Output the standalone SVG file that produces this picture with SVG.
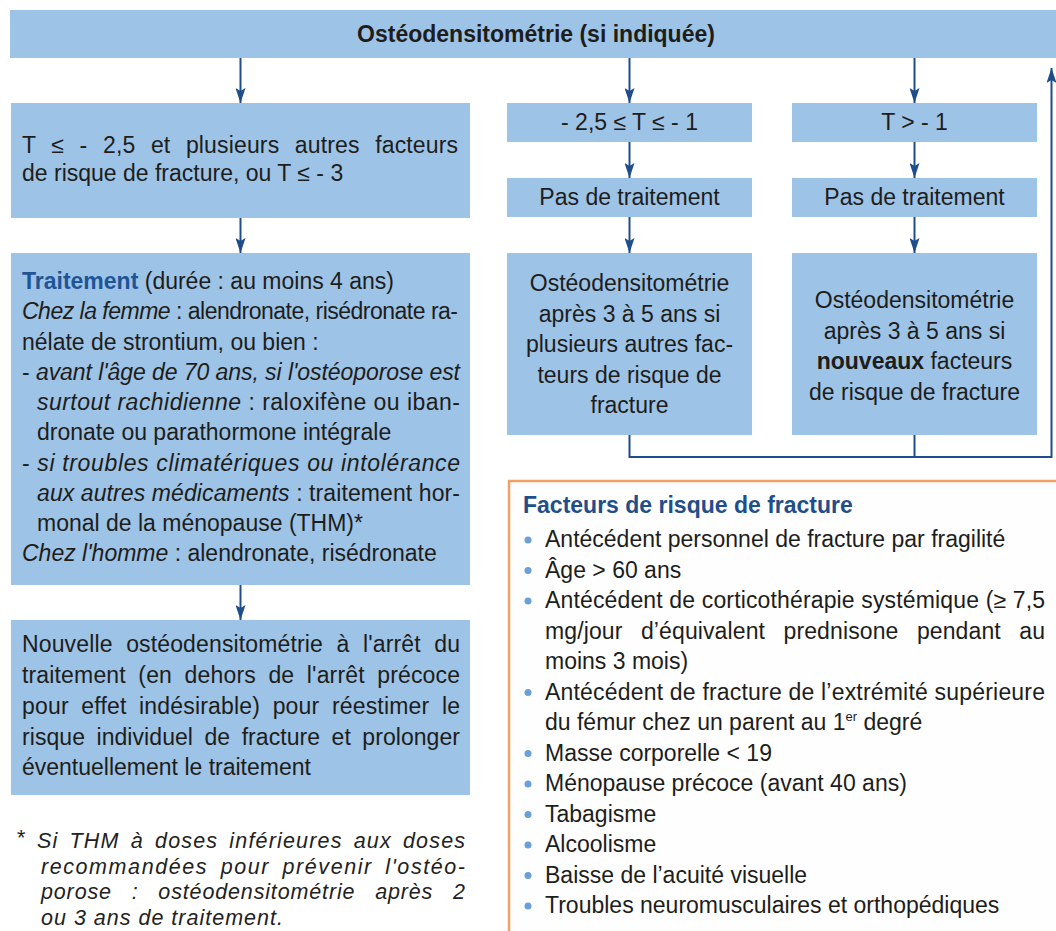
<svg xmlns="http://www.w3.org/2000/svg" width="1056" height="931" viewBox="0 0 1056 931">
<style>
.t{font-family:"Liberation Sans",Arial,sans-serif;font-size:23px;fill:#1d1d1b}
.i{font-style:italic}
.b{font-weight:bold}
.c{text-anchor:middle}
.box{fill:#9dc3e6}
.blue{fill:#1f5597}
.fn{font-family:"Liberation Sans",Arial,sans-serif;font-size:21.5px;font-style:italic;fill:#222222}
.con{fill:none;stroke:#1e4d8c;stroke-width:2}
.bul{fill:#6a9fd8}
</style>
<defs>
<marker id="ah" markerUnits="userSpaceOnUse" markerWidth="15" markerHeight="10" refX="15" refY="5" orient="auto">
<path d="M0,0 L15,5 L0,10 L3,5 Z" fill="#1e4d8c"/>
</marker>
</defs>
<rect width="1056" height="931" fill="#ffffff"/>

<g id="top">
<rect class="box" x="10" y="10" width="1046" height="48"/>
<text class="t b c" x="536" y="42">Ostéodensitométrie (si indiquée)</text>
</g>

<g id="boxA">
<rect class="box" x="11" y="103" width="459" height="115"/>
<text class="t" x="22" y="153" style="word-spacing:9px" textLength="436" lengthAdjust="spacing">T ≤ - 2,5 et plusieurs autres facteurs</text>
<text class="t" x="22" y="181">de risque de fracture, ou T ≤ - 3</text>
</g>

<g id="traitement">
<rect class="box" x="11" y="253" width="459" height="332"/>
<text class="t" x="22" y="289"><tspan class="b blue">Traitement</tspan> (durée : au moins 4 ans)</text>
<text class="t" x="22" y="319" textLength="436" lengthAdjust="spacing"><tspan class="i">Chez la femme</tspan> : alendronate, risédronate ra-</text>
<text class="t" x="22" y="349.5">nélate de strontium, ou bien :</text>
<text class="t" x="22" y="380" textLength="438" lengthAdjust="spacing">- <tspan class="i">avant l'âge de 70 ans, si l'ostéoporose est</tspan></text>
<text class="t" x="37" y="410" textLength="423" lengthAdjust="spacing"><tspan class="i">surtout rachidienne</tspan> : raloxifène ou iban-</text>
<text class="t" x="37" y="440">dronate ou parathormone intégrale</text>
<text class="t" x="22" y="470.5" textLength="438" lengthAdjust="spacing">- <tspan class="i">si troubles climatériques ou intolérance</tspan></text>
<text class="t" x="37" y="501" textLength="423" lengthAdjust="spacing"><tspan class="i">aux autres médicaments</tspan> : traitement hor-</text>
<text class="t" x="37" y="531">monal de la ménopause (THM)*</text>
<text class="t" x="22" y="561"><tspan class="i">Chez l'homme</tspan> : alendronate, risédronate</text>
</g>

<g id="nouvelle">
<rect class="box" x="11" y="620" width="459" height="175"/>
<text class="t" x="22" y="652" style="word-spacing:7px" textLength="438" lengthAdjust="spacing">Nouvelle ostéodensitométrie à l'arrêt du</text>
<text class="t" x="22" y="683" style="word-spacing:6px" textLength="438" lengthAdjust="spacing">traitement (en dehors de l'arrêt précoce</text>
<text class="t" x="22" y="714" style="word-spacing:6px" textLength="438" lengthAdjust="spacing">pour effet indésirable) pour réestimer le</text>
<text class="t" x="22" y="745" style="word-spacing:5px" textLength="438" lengthAdjust="spacing">risque individuel de fracture et prolonger</text>
<text class="t" x="22" y="775">éventuellement le traitement</text>
</g>

<g id="footnote">
<text class="fn" x="17" y="845" style="font-style:normal">*</text>
<text class="fn" x="37" y="848" style="word-spacing:4px" textLength="428" lengthAdjust="spacing">Si THM à doses inférieures aux doses</text>
<text class="fn" x="41" y="873.5" style="word-spacing:5px" textLength="424" lengthAdjust="spacing">recommandées pour prévenir l'ostéo-</text>
<text class="fn" x="41" y="899" style="word-spacing:13px" textLength="424" lengthAdjust="spacing">porose : ostéodensitométrie après 2</text>
<text class="fn" x="41" y="924.5" style="letter-spacing:1px">ou 3 ans de traitement.</text>
</g>

<g id="tmid">
<rect class="box" x="507" y="103" width="245" height="39"/>
<text class="t c" x="629.5" y="130">- 2,5 ≤ T ≤ - 1</text>
</g>
<g id="tgt">
<rect class="box" x="792" y="103" width="245" height="39"/>
<text class="t c" x="914.5" y="130">T &gt; - 1</text>
</g>
<g id="pas1">
<rect class="box" x="507" y="178" width="245" height="39"/>
<text class="t c" x="629.5" y="205">Pas de traitement</text>
</g>
<g id="pas2">
<rect class="box" x="792" y="178" width="245" height="39"/>
<text class="t c" x="914.5" y="205">Pas de traitement</text>
</g>
<g id="osteo1">
<rect class="box" x="507" y="253" width="245" height="182"/>
<text class="t c" x="629.5" y="291">Ostéodensitométrie</text>
<text class="t c" x="629.5" y="321.5">après 3 à 5 ans si</text>
<text class="t c" x="629.5" y="352">plusieurs autres fac-</text>
<text class="t c" x="629.5" y="382.5">teurs de risque de</text>
<text class="t c" x="629.5" y="413">fracture</text>
</g>
<g id="osteo2">
<rect class="box" x="792" y="253" width="245" height="182"/>
<text class="t c" x="914.5" y="308">Ostéodensitométrie</text>
<text class="t c" x="914.5" y="338.5">après 3 à 5 ans si</text>
<text class="t c" x="914.5" y="369"><tspan class="b">nouveaux</tspan> facteurs</text>
<text class="t c" x="914.5" y="399.5">de risque de fracture</text>
</g>

<g id="connectors">
<line class="con" x1="240.5" y1="58" x2="240.5" y2="103" marker-end="url(#ah)"/>
<line class="con" x1="240.5" y1="218" x2="240.5" y2="253" marker-end="url(#ah)"/>
<line class="con" x1="240.5" y1="585" x2="240.5" y2="620" marker-end="url(#ah)"/>
<line class="con" x1="629.5" y1="58" x2="629.5" y2="103" marker-end="url(#ah)"/>
<line class="con" x1="629.5" y1="142" x2="629.5" y2="178" marker-end="url(#ah)"/>
<line class="con" x1="629.5" y1="217" x2="629.5" y2="253" marker-end="url(#ah)"/>
<line class="con" x1="914.5" y1="58" x2="914.5" y2="103" marker-end="url(#ah)"/>
<line class="con" x1="914.5" y1="142" x2="914.5" y2="178" marker-end="url(#ah)"/>
<line class="con" x1="914.5" y1="217" x2="914.5" y2="253" marker-end="url(#ah)"/>
<path class="con" d="M629.5,435 V457 H1051.5 V68" marker-end="url(#ah)"/>
<line class="con" x1="914.5" y1="435" x2="914.5" y2="457"/>
</g>

<g id="risques">
<rect x="509" y="481" width="600" height="500" fill="#fefefe" stroke="#f4a064" stroke-width="2.5"/>
<text class="t b" x="523" y="513" style="fill:#1f4e8c">Facteurs de risque de fracture</text>
<circle class="bul" cx="528" cy="540" r="3.5"/>
<text class="t" x="545" y="547">Antécédent personnel de fracture par fragilité</text>
<circle class="bul" cx="528" cy="570.5" r="3.5"/>
<text class="t" x="545" y="577.5">Âge &gt; 60 ans</text>
<circle class="bul" cx="528" cy="601" r="3.5"/>
<text class="t" x="545" y="608" textLength="500" lengthAdjust="spacing">Antécédent de corticothérapie systémique (≥ 7,5</text>
<text class="t" x="545" y="638.5" style="word-spacing:12px" textLength="500" lengthAdjust="spacing">mg/jour d’équivalent prednisone pendant au</text>
<text class="t" x="545" y="669">moins 3 mois)</text>
<circle class="bul" cx="528" cy="692.5" r="3.5"/>
<text class="t" x="545" y="699.5" textLength="500" lengthAdjust="spacing">Antécédent de fracture de l’extrémité supérieure</text>
<text class="t" x="545" y="730">du fémur chez un parent au 1<tspan font-size="13" dy="-9">er</tspan><tspan dy="9"> degré</tspan></text>
<circle class="bul" cx="528" cy="753.5" r="3.5"/>
<text class="t" x="545" y="760.5">Masse corporelle &lt; 19</text>
<circle class="bul" cx="528" cy="784" r="3.5"/>
<text class="t" x="545" y="791">Ménopause précoce (avant 40 ans)</text>
<circle class="bul" cx="528" cy="814.5" r="3.5"/>
<text class="t" x="545" y="821.5">Tabagisme</text>
<circle class="bul" cx="528" cy="845" r="3.5"/>
<text class="t" x="545" y="852">Alcoolisme</text>
<circle class="bul" cx="528" cy="875.5" r="3.5"/>
<text class="t" x="545" y="882.5">Baisse de l’acuité visuelle</text>
<circle class="bul" cx="528" cy="906" r="3.5"/>
<text class="t" x="545" y="913">Troubles neuromusculaires et orthopédiques</text>
</g>
</svg>
